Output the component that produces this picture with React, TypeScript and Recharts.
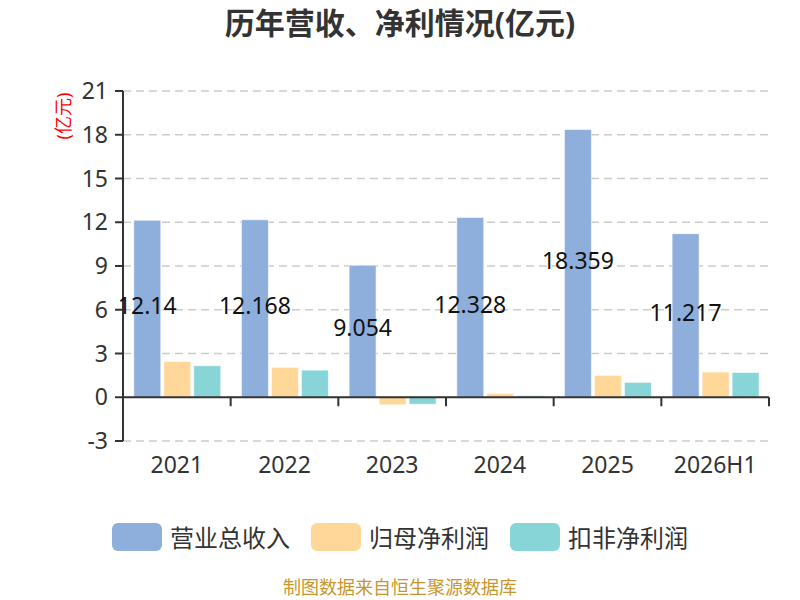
import type { JSX } from "react";
import {
  BarChart,
  Bar,
  XAxis,
  YAxis,
  CartesianGrid,
  Legend,
  LabelList,
  ReferenceLine,
} from "recharts";

const years = ["2021", "2022", "2023", "2024", "2025", "2026H1"];
const revenue = [12.14, 12.168, 9.054, 12.328, 18.359, 11.217];
const netProfit = [2.45, 2.05, -0.52, 0.25, 1.5, 1.73];
const deductedProfit = [2.16, 1.86, -0.48, 0.11, 1.02, 1.7];
const yTicks = [-3, 0, 3, 6, 9, 12, 15, 18, 21];

const series = [
  { key: "revenue", name: "营业总收入", color: "#8eaedb" },
  { key: "netProfit", name: "归母净利润", color: "#ffd899" },
  { key: "deductedProfit", name: "扣非净利润", color: "#88d5d8" },
];

const data = years.map((year, i) => ({
  year,
  revenue: revenue[i],
  netProfit: netProfit[i],
  deductedProfit: deductedProfit[i],
}));

const font = "'Noto Sans', 'Noto Sans CJK SC', sans-serif";

// x-axis line drawn at zero, with tick marks on the category boundaries
const ZeroAxis = (props: any): JSX.Element => {
  const { x1, y1, x2 } = props;
  const band = (x2 - x1) / years.length;
  let d = `M${x1},${y1}H${x2}`;
  for (let i = 1; i <= years.length; i++) {
    const x = x1 + band * i;
    d += `M${x},${y1}V${y1 + 9}`;
  }
  return <path d={d} stroke="#333" strokeWidth={2} fill="none" />;
};

const LegendContent = (): JSX.Element => (
  <div
    style={{
      display: "flex",
      justifyContent: "center",
      alignItems: "center",
      gap: 21,
      fontFamily: font,
      fontSize: 24,
      color: "#333",
    }}
  >
    {series.map((s) => (
      <div key={s.key} style={{ display: "flex", alignItems: "center" }}>
        <span
          style={{
            display: "inline-block",
            width: 50,
            height: 28,
            borderRadius: 6,
            background: s.color,
            marginRight: 8,
          }}
        />
        {s.name}
      </div>
    ))}
  </div>
);

export default function App(): JSX.Element {
  return (
    <div style={{ position: "absolute", left: 0, top: 0, width: 800, height: 600 }}>
      <BarChart
        width={800}
        height={600}
        data={data}
        margin={{ top: 91, right: 31, left: 0, bottom: 119 }}
        barCategoryGap="10%"
        barGap={3}
      >
        <text
          x={400}
          y={34}
          textAnchor="middle"
          fontFamily={font}
          fontSize={30}
          fontWeight="bold"
          fill="#333"
        >
          历年营收、净利情况(亿元)
        </text>
        <text
          x={0}
          y={0}
          transform="translate(70,116) rotate(-90)"
          textAnchor="middle"
          fontFamily={font}
          fontSize={18}
          fill="#ff0000"
        >
          (亿元)
        </text>
        <CartesianGrid vertical={false} stroke="#ccc" strokeDasharray="8 5" strokeWidth={1.5} />
        <XAxis
          dataKey="year"
          axisLine={false}
          tickLine={false}
          tickSize={0}
          tickMargin={16}
          height={40}
          tick={{ fontSize: 23, fill: "#333", fontFamily: font }}
        />
        <YAxis
          width={123}
          domain={[-3, 21]}
          ticks={yTicks}
          interval={0}
          axisLine={{ stroke: "#333", strokeWidth: 2 }}
          tickLine={{ stroke: "#333", strokeWidth: 2 }}
          tickSize={8}
          tickMargin={7}
          tick={{ fontSize: 23, fill: "#333", fontFamily: font }}
        />
        <ReferenceLine y={0} shape={ZeroAxis} />
        <Legend
          verticalAlign="middle"
          align="center"
          layout="horizontal"
          content={LegendContent}
          wrapperStyle={{ position: "absolute", top: 519, left: 0, width: 800 }}
        />
        {series.map((s) => (
          <Bar
            key={s.key}
            dataKey={s.key}
            name={s.name}
            fill={s.color}
            stroke="rgba(255,255,255,0.6)"
            strokeWidth={1}
            isAnimationActive={false}
          >
            {s.key === "revenue" && (
              <LabelList
                dataKey="revenue"
                position="center"
                fill="#111"
                fontSize={23}
                fontFamily={font}
                dy={-3}
              />
            )}
          </Bar>
        ))}
        <text
          x={400}
          y={594}
          textAnchor="middle"
          fontFamily={font}
          fontSize={18}
          fill="#c8962e"
        >
          制图数据来自恒生聚源数据库
        </text>
      </BarChart>
    </div>
  );
}
